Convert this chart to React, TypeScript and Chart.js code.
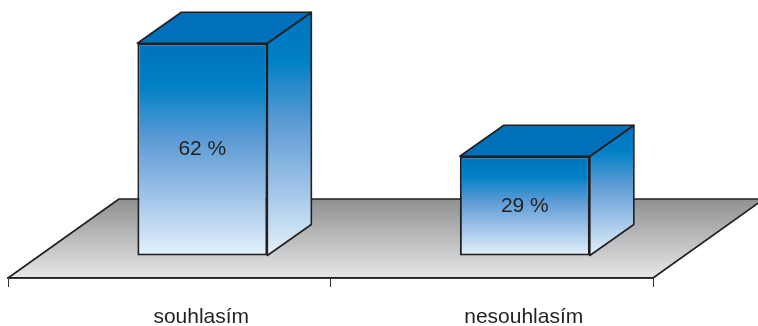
import React, { useEffect, useRef } from "react";
import { Chart, registerables } from "chart.js";

Chart.register(...registerables);

const categories = ["souhlasím", "nesouhlasím"];
const shares = [62, 29];

const INK = "#231f20";
const FONT = "'Liberation Sans', Arial, sans-serif";
const BAR_DEPTH = { dx: 44, dy: -31 };
const BAR_LIFT = { dx: 33.1, dy: -22.5 };
const FLOOR_DEPTH = { dx: 111, dy: -79 };

const blueStops: [number, string][] = [
  [0, "#0072bc"],
  [0.2, "#0080c6"],
  [0.45, "#5b9ad4"],
  [0.75, "#a6c8ea"],
  [1, "#e4f2fc"],
];

function blueGradient(ctx: CanvasRenderingContext2D, top: number, bottom: number) {
  const g = ctx.createLinearGradient(0, top, 0, bottom);
  blueStops.forEach(([at, color]) => g.addColorStop(at, color));
  return g;
}

function face(ctx: CanvasRenderingContext2D, pts: number[][], fill: CanvasGradient | string) {
  ctx.beginPath();
  pts.forEach(([x, y], i) => (i ? ctx.lineTo(x, y) : ctx.moveTo(x, y)));
  ctx.closePath();
  ctx.fillStyle = fill;
  ctx.fill();
  ctx.lineWidth = 1.6;
  ctx.strokeStyle = INK;
  ctx.lineJoin = "round";
  ctx.stroke();
}

// Grey platform under the columns, spanning the category axis.
const floorPlugin = {
  id: "floor",
  beforeDraw(chart: Chart) {
    const { ctx, chartArea } = chart;
    const { left, right, bottom } = chartArea;
    const top = bottom + FLOOR_DEPTH.dy;
    const g = ctx.createLinearGradient(0, top, 0, bottom);
    g.addColorStop(0, "#8f9092");
    g.addColorStop(1, "#e6e7e8");
    ctx.save();
    face(
      ctx,
      [
        [left, bottom],
        [left + FLOOR_DEPTH.dx, top],
        [right + FLOOR_DEPTH.dx, top],
        [right, bottom],
      ],
      g
    );
    ctx.restore();
  },
};

// Side and top faces of each column; the front face is the bar element itself.
const columnPlugin = {
  id: "column",
  beforeDatasetDraw(chart: Chart, args: { index: number }) {
    const { ctx } = chart;
    ctx.save();
    ctx.translate(BAR_LIFT.dx, BAR_LIFT.dy);
    chart.getDatasetMeta(args.index).data.forEach((bar: any) => {
      const l = bar.x - bar.width / 2;
      const r = bar.x + bar.width / 2;
      const { y, base } = bar;
      const { dx, dy } = BAR_DEPTH;
      face(
        ctx,
        [
          [r, y],
          [r + dx, y + dy],
          [r + dx, base + dy],
          [r, base],
        ],
        blueGradient(ctx, y + dy, base)
      );
      face(
        ctx,
        [
          [l, y],
          [l + dx, y + dy],
          [r + dx, y + dy],
          [r, y],
        ],
        "#0070ba"
      );
    });
  },
  afterDatasetDraw(chart: Chart) {
    chart.ctx.restore();
  },
  afterDatasetsDraw(chart: Chart) {
    const { ctx } = chart;
    ctx.save();
    ctx.fillStyle = INK;
    ctx.font = `21px ${FONT}`;
    ctx.textAlign = "center";
    ctx.textBaseline = "middle";
    chart.getDatasetMeta(0).data.forEach((bar: any, i: number) => {
      ctx.fillText(
        `${shares[i]} %`,
        bar.x + BAR_LIFT.dx,
        (bar.y + bar.base) / 2 + BAR_LIFT.dy
      );
    });
    ctx.restore();
  },
};

export default function App() {
  const ref = useRef<HTMLCanvasElement>(null);

  useEffect(() => {
    document.body.style.margin = "0";
    const chart = new Chart(ref.current!, {
      type: "bar",
      data: {
        labels: categories,
        datasets: [
          {
            data: shares,
            barPercentage: 0.403,
            categoryPercentage: 1,
            borderWidth: 2,
            borderColor: INK,
            borderSkipped: false,
            clip: false,
            backgroundColor: (c: any) => {
              const y = c.chart.scales.y;
              const top = y ? y.getPixelForValue(c.raw) : NaN;
              const bottom = y ? y.getPixelForValue(0) : NaN;
              if (!Number.isFinite(top) || !Number.isFinite(bottom)) return "#0072bc";
              return blueGradient(c.chart.ctx, top, bottom);
            },
          } as any,
        ],
      },
      options: {
        responsive: false,
        animation: false,
        layout: { padding: { left: 8, right: 105, top: 11, bottom: 0 } },
        plugins: { legend: { display: false }, tooltip: { enabled: false } },
        scales: {
          y: { display: false, min: 0, max: 78 },
          x: {
            afterFit: (scale: any) => {
              scale.height = 48;
            },
            border: { display: true, color: INK, width: 1.6 },
            grid: {
              drawOnChartArea: false,
              drawTicks: true,
              tickLength: 9,
              tickColor: "#333333",
              tickWidth: 1,
              offset: true,
            },
            ticks: {
              color: INK,
              padding: 18,
              maxRotation: 0,
              labelOffset: 32,
              font: { family: FONT, size: 21 },
            },
          },
        },
      },
      plugins: [floorPlugin, columnPlugin],
    } as any);
    return () => chart.destroy();
  }, []);

  return <canvas ref={ref} width={758} height={326} style={{ display: "block" }} />;
}
